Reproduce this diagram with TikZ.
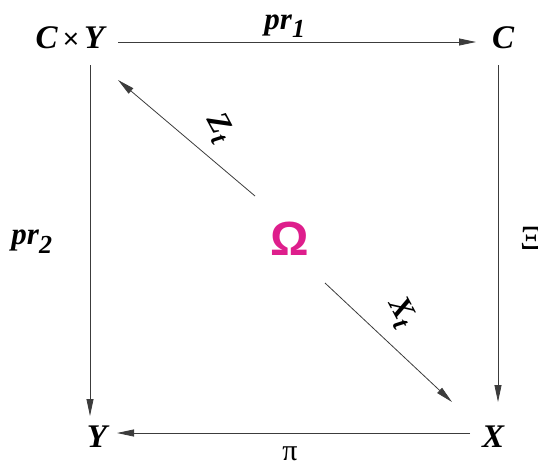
\documentclass[tikz,border=0pt]{standalone}
\usepackage{fontspec}
\setmainfont{Liberation Serif}
\newfontfamily\omfont{Liberation Sans}
\usetikzlibrary{arrows.meta}
\definecolor{lincol}{RGB}{60,60,60}
\definecolor{omcol}{RGB}{222,30,140}
\begin{document}
\begin{tikzpicture}[x=1pt,y=-1pt,
  obj/.style={font=\fontsize{33}{35}\selectfont\bfseries\itshape, inner sep=2pt},
  lbl/.style={font=\fontsize{31}{33}\selectfont\bfseries\itshape, inner sep=1pt},
  arr/.style={draw=lincol, line width=0.8pt, -{Triangle[length=17pt,width=7pt]}}]
\useasboundingbox (0,0) rectangle (538,466);
\node[obj] (CY) at (70,38) {C\kern5pt{\normalfont\fontsize{28}{30}\selectfont\omfont\symbol{"00D7}}\kern5pt Y};
\node[obj] (C) at (503,38) {C};
\node[obj] (Y) at (97,437) {Y};
\node[obj] (X) at (493,437) {X};
\node[font=\omfont\fontsize{48}{50}\selectfont\bfseries, text=omcol] (O) at (290,239) {Ω};
\coordinate (a1) at (118,42); \coordinate (a2) at (476,42);
\draw[arr] (a1) -- (a2);
\coordinate (b1) at (90,65); \coordinate (b2) at (90,416);
\draw[arr] (b1) -- (b2);
\coordinate (c1) at (498,65); \coordinate (c2) at (498,402);
\draw[arr] (c1) -- (c2);
\coordinate (d1) at (470,433); \coordinate (d2) at (117,433);
\draw[arr] (d1) -- (d2);
\coordinate (z1) at (255,196); \coordinate (z2) at (118,80);
\draw[arr] (z1) -- (z2);
\coordinate (x1) at (325,283); \coordinate (x2) at (452,402);
\draw[arr] (x1) -- (x2);
\node[lbl] (p1) at (285,26) {pr\textsubscript{\fontsize{26}{28}\selectfont 1}};
\node[lbl] (p2) at (32,242) {pr\textsubscript{\fontsize{26}{28}\selectfont 2}};
\node[font=\fontsize{30}{32}\selectfont] (pi) at (290,454) {π};
\node[font=\fontsize{34}{36}\selectfont, anchor=west, inner sep=0pt] (xi) at (520,238) {Ξ};
\node[lbl, rotate=-62] (zt) at (219,128) {Z\textsubscript{\fontsize{26}{28}\selectfont t}};
\node[lbl, rotate=-62] (xt) at (401,313) {X\textsubscript{\fontsize{26}{28}\selectfont t}};
\end{tikzpicture}
\end{document}
